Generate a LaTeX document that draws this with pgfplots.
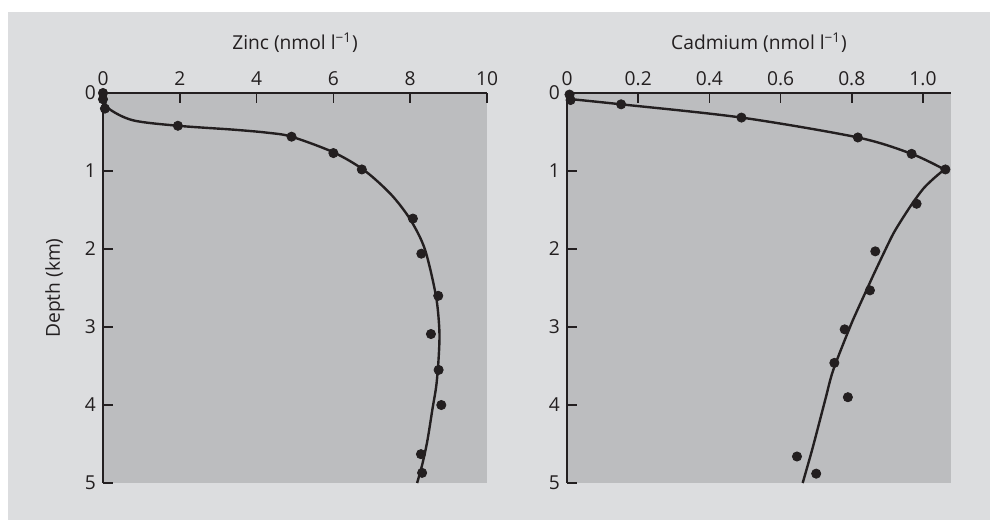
\documentclass[border=0pt]{standalone}
\usepackage{fontspec}
\setmainfont{Open Sans}
\usepackage{pgfplots}
\pgfplotsset{compat=1.18}
\definecolor{outerbg}{RGB}{220,221,223}
\definecolor{innerbg}{RGB}{188,189,191}
\definecolor{ink}{RGB}{35,31,32}
\newcommand{\lblfont}{\fontsize{9.6}{11.5}\selectfont}
\pgfplotsset{
  myax/.style={
    scale only axis, width=192pt, height=195pt, anchor=south west,
    axis x line*=top, axis y line*=left,
    y dir=reverse, ymin=0, ymax=5, ytick={0,1,2,3,4,5},
    axis background/.style={fill=innerbg},
    axis line style={ink, line width=0.8pt, -},
    tick style={ink, line width=0.8pt},
    major tick length=5pt, tick align=inside,
    ticklabel style={font=\lblfont, text=ink},
    /pgf/number format/assume math mode=true,
    every axis x label/.style={at={(axis description cs:0.5,1)}, anchor=center, yshift=25pt, font=\lblfont, text=ink},
    every axis y label/.style={at={(axis description cs:-0.125,0.5)}, rotate=90, anchor=center, font=\lblfont, text=ink},
  },
  pts/.style={only marks, mark=*, mark size=2.3pt, mark options={fill=ink, draw=ink}},
  crv/.style={no marks, smooth, tension=0.5, ink, line width=1.2pt},
}
\begin{document}
\begin{tikzpicture}[font=\lblfont]
\path[use as bounding box] (0,0) rectangle (500pt,260.5pt);
\fill[outerbg] (4pt,0.5pt) rectangle (495pt,254.5pt);
\begin{axis}[myax, at={(51.5pt,19pt)},
  xmin=0, xmax=10, xtick={0,2,4,6,8,10},
  xlabel={Zinc (nmol l\textsuperscript{−1})}, ylabel={Depth (km)}]
\addplot[crv] coordinates {
(0,0.05) (0.15,0.2) (0.78,0.35) (1.95,0.42) (3.4,0.47) (4.3,0.51) (4.91,0.56)
(6.0,0.76) (6.8,0.99) (7.5,1.3) (8.0,1.62) (8.38,2.0) (8.67,2.6) (8.76,3.05)
(8.74,3.4) (8.68,3.75) (8.58,4.05) (8.45,4.45) (8.32,4.75) (8.18,5.0)};
\addplot[pts] coordinates {
(0,0) (0,0.08) (0.05,0.2) (1.95,0.42) (4.91,0.56) (6.0,0.77) (6.74,0.98)
(8.07,1.61) (8.29,2.06) (8.73,2.60) (8.54,3.09) (8.74,3.55) (8.81,4.0)
(8.28,4.63) (8.31,4.87)};
\end{axis}
\begin{axis}[myax, at={(283.5pt,19pt)},
  xmin=0, xmax=1.0787, xtick={0,0.2,0.4,0.6,0.8,1.0},
  xticklabels={0,0.2,0.4,0.6,0.8,1.0},
  xlabel={Cadmium (nmol l\textsuperscript{−1})}]
\addplot[crv] coordinates {
(0.003,0.075) (0.152,0.145) (0.49,0.315) (0.817,0.57) (0.968,0.78) (1.06,0.98)};
\addplot[crv] coordinates {
(1.06,0.98) (1.029,1.10) (1.001,1.226) (0.973,1.397) (0.945,1.59) (0.917,1.80)
(0.889,2.06) (0.860,2.34) (0.837,2.57) (0.815,2.79) (0.795,3.0) (0.748,3.55)
(0.725,3.94) (0.69,4.55) (0.662,5.0)};
\addplot[pts] coordinates {
(0.007,0.02) (0.01,0.09) (0.152,0.145) (0.49,0.315) (0.817,0.57) (0.968,0.78)
(1.063,0.98) (0.982,1.42) (0.866,2.03) (0.851,2.53) (0.78,3.03) (0.751,3.46)
(0.789,3.90) (0.646,4.66) (0.70,4.88)};
\end{axis}
\end{tikzpicture}
\end{document}
